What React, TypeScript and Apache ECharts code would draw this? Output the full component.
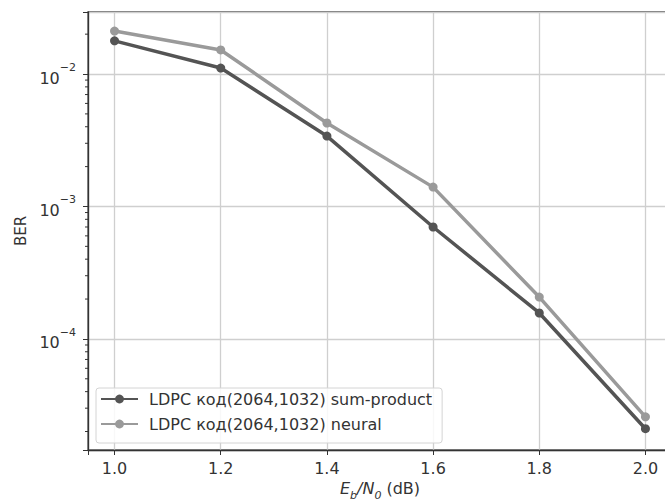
import React, { useEffect, useRef } from "react";
import * as echarts from "echarts";

const ebn0 = [1.0, 1.2, 1.4, 1.6, 1.8, 2.0];
const sumProduct = [1.78e-2, 1.11e-2, 3.4e-3, 7.0e-4, 1.57e-4, 2.1e-5];
const neural = [2.11e-2, 1.52e-2, 4.27e-3, 1.4e-3, 2.07e-4, 2.58e-5];
const seriesNames = [
  "LDPC код(2064,1032) sum-product",
  "LDPC код(2064,1032) neural",
];
const minorTickValues = [
  2e-5, 3e-5, 4e-5, 5e-5, 6e-5, 7e-5, 8e-5, 9e-5,
  2e-4, 3e-4, 4e-4, 5e-4, 6e-4, 7e-4, 8e-4, 9e-4,
  2e-3, 3e-3, 4e-3, 5e-3, 6e-3, 7e-3, 8e-3, 9e-3,
  2e-2,
];
const supMap: Record<string, string> = { "-2": "−2", "-3": "−3", "-4": "−4", "-5": "−5" };

export default function App() {
  const ref = useRef<HTMLDivElement>(null);
  useEffect(() => {
    if (!ref.current) return;
    const chart = echarts.init(ref.current, undefined, { renderer: "svg" });
    const font = "DejaVu Sans";
    const axisColor = "#333";
    chart.setOption({
      animation: false,
      backgroundColor: "#fff",
      grid: {
        left: 88,
        top: 12,
        right: 0,
        bottom: 52,
        containLabel: false,
        outerBoundsMode: "none",
        show: true,
        borderColor: "#444",
        borderWidth: 1.3,
      },
      legend: {
        data: seriesNames,
        orient: "vertical",
        left: 96,
        top: 388,
        itemWidth: 37,
        itemHeight: 11,
        itemGap: 9,
        padding: [3, 10, 11, 4],
        backgroundColor: "rgba(255,255,255,0.85)",
        borderColor: "#d4d4d4",
        borderWidth: 1,
        borderRadius: 3,
        textStyle: {
          fontFamily: font,
          fontSize: 16,
          color: "#333",
          padding: [0, 0, 0, 6],
        },
      },
      xAxis: {
        type: "value",
        min: 0.95,
        max: 2.05,
        name: "{i|E}{s|b}{i|/N}{s|0}{n| (dB)}",
        nameLocation: "middle",
        nameGap: 30,
        nameTextStyle: {
          rich: {
            i: { fontFamily: font, fontStyle: "italic", fontSize: 16, color: "#333", lineHeight: 20, verticalAlign: "top" },
            s: { fontFamily: font, fontStyle: "italic", fontSize: 11, color: "#333", lineHeight: 20, verticalAlign: "bottom" },
            n: { fontFamily: font, fontSize: 16, color: "#333", lineHeight: 20, verticalAlign: "top" },
          },
        },
        axisLine: { show: true, lineStyle: { color: axisColor, width: 1.3 } },
        axisTick: { show: true, length: 5, lineStyle: { color: axisColor } },
        axisLabel: {
          fontFamily: font,
          fontSize: 16,
          color: "#333",
          margin: 10,
          formatter: (v: number) => {
            const r = Math.round(v / 0.2) * 0.2;
            return Math.abs(r - v) < 1e-6 ? v.toFixed(1) : "";
          },
        },
        splitLine: { show: true, lineStyle: { color: "#cfcfcf", width: 1.3 } },
      },
      yAxis: {
        type: "log",
        logBase: 10,
        min: 1.45e-5,
        max: 2.94e-2,
        name: "BER",
        nameLocation: "middle",
        nameGap: 58,
        nameRotate: 90,
        nameTextStyle: { fontFamily: font, fontSize: 15, color: "#333" },
        axisLine: { show: true, lineStyle: { color: axisColor, width: 1.3 } },
        axisTick: { show: true, length: 5, lineStyle: { color: axisColor } },
        axisLabel: {
          fontFamily: font,
          color: "#333",
          margin: 12,
          formatter: (v: number) => {
            const e = Math.log10(v);
            const r = Math.round(e);
            if (Math.abs(e - r) > 1e-6) return "";
            return "{b|10}{p|" + (supMap[String(r)] || String(r)) + "}";
          },
          rich: {
            b: { fontFamily: font, fontSize: 16, color: "#333", lineHeight: 24, verticalAlign: "bottom" },
            p: { fontFamily: font, fontSize: 11, color: "#333", lineHeight: 24, verticalAlign: "top" },
          },
        },
        splitLine: { show: true, lineStyle: { color: "#cfcfcf", width: 1.3 } },
      },
      series: [
        {
          name: seriesNames[0],
          type: "line",
          data: ebn0.map((x, i) => [x, sumProduct[i]]),
          symbol: "circle",
          symbolSize: 9,
          lineStyle: { color: "#545454", width: 3.5 },
          itemStyle: { color: "#545454" },
          z: 3,
        },
        {
          name: seriesNames[1],
          type: "line",
          data: ebn0.map((x, i) => [x, neural[i]]),
          symbol: "circle",
          symbolSize: 9,
          lineStyle: { color: "#9a9a9a", width: 3.5 },
          itemStyle: { color: "#9a9a9a" },
          z: 2,
        },
        {
          name: "minorTicks",
          type: "custom",
          silent: true,
          clip: false,
          data: minorTickValues.map((v) => [1.0, v]),
          renderItem: (params: any, api: any) => {
            const y = api.coord([1.0, api.value(1)])[1];
            const x0 = params.coordSys.x;
            return {
              type: "line",
              shape: { x1: x0 - 3, y1: y, x2: x0, y2: y },
              style: { stroke: axisColor, lineWidth: 1 },
            };
          },
          z: 5,
        },
      ],
    });
    return () => chart.dispose();
  }, []);
  return (
    <div style={{ position: "fixed", left: 0, top: 0, width: 665, height: 502, overflow: "hidden" }}>
      <div ref={ref} style={{ width: 672, height: 502 }} />
    </div>
  );
}
